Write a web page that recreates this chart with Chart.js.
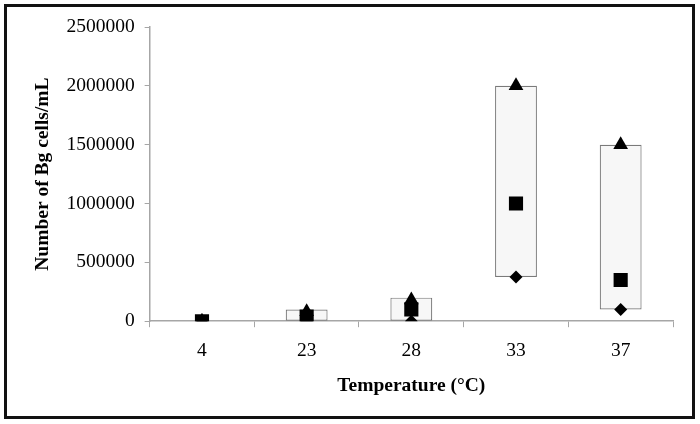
<!DOCTYPE html>
<html>
<head>
<meta charset="UTF-8" />
<title>Number of Bg cells/mL vs Temperature</title>
<script src="https://cdn.jsdelivr.net/npm/chart.js"></script>
<style>
  body { margin: 0; background: #fff; }
  .wrap { position: relative; width: 700px; height: 424px; }
  canvas { position: absolute; left: 0; top: 0; }
  .frame {
    position: absolute; left: 4px; top: 4px;
    width: 685px; height: 409px;
    border: 3px solid #111;
    pointer-events: none;
  }
</style>
</head>
<body>
<div class="wrap">
  <canvas id="chart" width="700" height="424"></canvas>
  <div class="frame"></div>
</div>
<script>
  // temperature groups (°C)
  const temps = ['4', '23', '28', '33', '37']
  // min / max range of each group (floating box)
  const lows = [null, 0, 0, 375000, 100000]
  const highs = [null, 100000, 200000, 2000000, 1500000]
  // markers
  const maxVals = [0, 80000, 180000, 2000000, 1500000]
  const midVals = [0, 40000, 100000, 1000000, 350000]
  const minVals = [0, 0, 0, 375000, 100000]
  const yTicks = [0, 500000, 1000000, 1500000, 2000000, 2500000]

  const serif = '"Liberation Serif", "Times New Roman", serif'
  const fs = 19.5

  const boxes = temps.map((t, i) => lows[i] === null ? null : [lows[i], highs[i]])

  function marker(label, data, style, radius) {
    return {
      type: 'line',
      label: label,
      data: data,
      showLine: false,
      pointStyle: style,
      pointRadius: radius,
      pointHoverRadius: radius,
      pointBackgroundColor: '#000',
      pointBorderColor: '#000',
      pointBorderWidth: 0,
      order: 0
    }
  }

  new Chart(document.getElementById('chart').getContext('2d'), {
    data: {
      labels: temps,
      datasets: [
        {
          type: 'bar',
          label: 'range',
          data: boxes,
          backgroundColor: '#f7f7f7',
          borderColor: '#7a7a7a',
          borderWidth: 1.2,
          borderSkipped: false,
          categoryPercentage: 1,
          barPercentage: 0.4,
          order: 1
        },
        marker('min', minVals, 'rectRot', 6.5),
        marker('max', maxVals, 'triangle', 8.5),
        marker('mid', midVals, 'rect', 10)
      ]
    },
    options: {
      responsive: false,
      animation: false,
      layout: { padding: { top: 27, right: 27, bottom: 22, left: 27 } },
      plugins: {
        legend: { display: false },
        tooltip: { enabled: false }
      },
      scales: {
        x: {
          offset: true,
          grid: {
            offset: true,
            drawOnChartArea: false,
            color: '#a6a6a6',
            tickLength: 6
          },
          border: { color: '#a6a6a6', width: 1.5 },
          ticks: { color: '#000', padding: 12, font: { family: serif, size: fs } },
          title: {
            display: true,
            text: 'Temperature (°C)',
            color: '#000',
            padding: { top: 0 },
            font: { family: serif, size: fs, weight: 'bold' }
          }
        },
        y: {
          min: 0,
          max: 2500000,
          afterBuildTicks: (axis) => { axis.ticks = yTicks.map(v => ({ value: v })) },
          grid: {
            drawOnChartArea: false,
            color: '#a6a6a6',
            tickLength: 5
          },
          border: { color: '#a6a6a6', width: 1.5 },
          ticks: {
            color: '#000',
            padding: 10,
            font: { family: serif, size: fs },
            callback: (v) => String(v)
          },
          title: {
            display: true,
            text: 'Number of Bg cells/mL',
            color: '#000',
            padding: { bottom: 2 },
            font: { family: serif, size: fs, weight: 'bold' }
          }
        }
      }
    }
  })
</script>
</body>
</html>
